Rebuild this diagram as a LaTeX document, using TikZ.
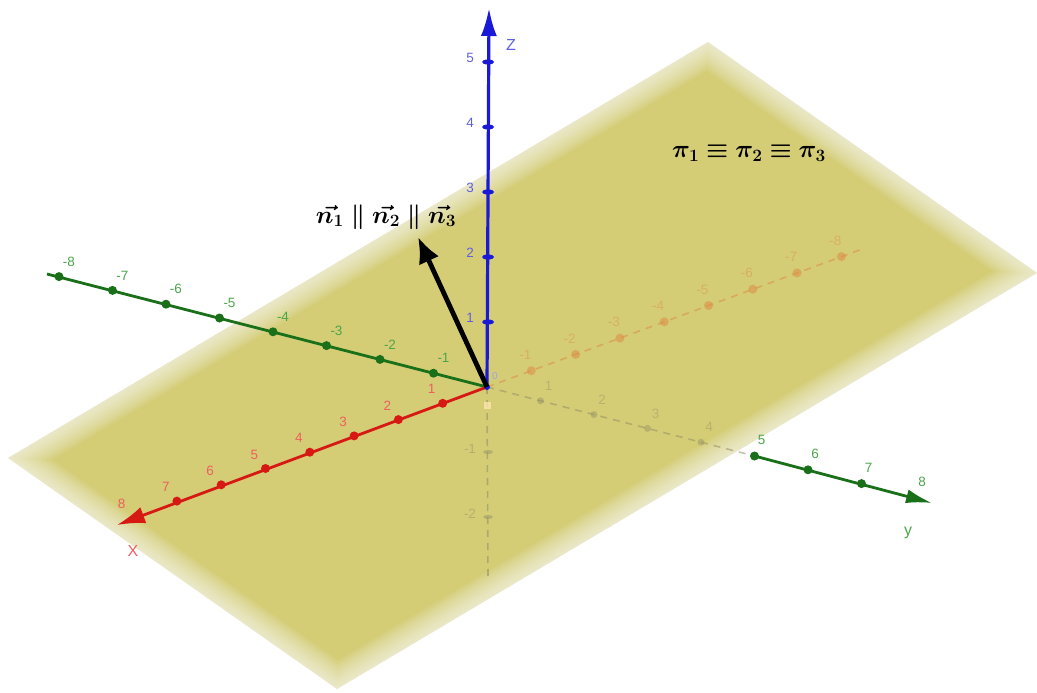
\documentclass[tikz,border=0pt]{standalone}
\usepackage{fontspec}
\setsansfont{Liberation Sans}
\usepackage{amsmath,bm}
\usetikzlibrary{arrows.meta,shapes.geometric}
\definecolor{planec}{RGB}{212,205,118}
\definecolor{xred}{RGB}{215,25,20}
\definecolor{xlabc}{RGB}{238,95,95}
\definecolor{ygreen}{RGB}{25,112,25}
\definecolor{ylabc}{RGB}{75,165,75}
\definecolor{zblue}{RGB}{25,25,215}
\definecolor{zlabc}{RGB}{95,95,225}
\definecolor{negx}{RGB}{222,140,70}
\definecolor{dashg}{RGB}{150,145,100}
\begin{document}
\begin{tikzpicture}[x=1pt,y=-1pt,
  ticklab/.style={font=\sffamily\fontsize{13.5}{15}\selectfont, inner sep=0pt},
  rdot/.style={circle,fill=xred,inner sep=0pt,minimum size=9pt},
  gdot/.style={circle,fill=ygreen,inner sep=0pt,minimum size=9pt},
  fdot/.style={circle,fill=negx,opacity=0.55,inner sep=0pt,minimum size=9pt},
  ydot/.style={circle,fill=dashg,opacity=0.45,inner sep=0pt,minimum size=7pt},
  zdot/.style={ellipse,fill=zblue,inner sep=0pt,minimum width=12pt,minimum height=5pt},
  axisline/.style={line width=2.8pt},
  fadeline/.style={line width=1.6pt,dash pattern=on 7pt off 6pt},
  edgefade/.style={white,opacity=0.075,line join=round},
  mathlab/.style={inner sep=0pt,font=\fontsize{27}{32}\selectfont}]
\useasboundingbox (0,0) rectangle (1037,693);
% plane
\coordinate (PT) at (708,42);
\coordinate (PR) at (1037,273);
\coordinate (PB) at (337,689);
\coordinate (PL) at (8,458);
\fill[planec] (PT) -- (PR) -- (PB) -- (PL) -- cycle;
\foreach \w in {48,44,...,4}{
  \draw[edgefade,line width=\w pt] (PT) -- (PR) -- (PB) -- (PL) -- cycle;
}
% origin
\coordinate (O) at (487,387);
% hidden parts (below plane)
\coordinate (XN) at (865,248);
\draw[negx,opacity=0.55,fadeline] (O) -- (XN);
\foreach \i in {1,...,8}{
  \node[fdot] (xn\i) at ({487+44.3*\i},{387-16.3*\i}) {};
  \node[ticklab,text=negx,opacity=0.45] at ({487+44.3*\i-6},{387-16.3*\i-16}) {-\i};
}
\coordinate (Y5) at ({487+53.5*5},{387+13.8*5});
\draw[dashg,opacity=0.55,fadeline] (O) -- (Y5);
\foreach \i in {1,...,4}{
  \node[ydot] (yp\i) at ({487+53.5*\i},{387+13.8*\i}) {};
  \node[ticklab,text=dashg,opacity=0.45] at ({487+53.5*\i+8},{387+13.8*\i-15}) {\i};
}
\coordinate (ZN) at (488,578);
\draw[dashg,opacity=0.6,fadeline] (O) -- (ZN);
\foreach \i in {1,2}{
  \node[ellipse,fill=dashg,opacity=0.5,inner sep=0pt,minimum width=10pt,minimum height=4pt] (zn\i) at (488,{387+65*\i}) {};
  \node[ticklab,text=dashg,opacity=0.5] at (470,{387+65*\i-3}) {-\i};
}
% negative y axis (solid)
\coordinate (YN) at (47,274);
\draw[ygreen,axisline] (O) -- (YN);
\foreach \i in {1,...,8}{
  \node[gdot] (yn\i) at ({487-53.5*\i},{387-13.8*\i}) {};
  \node[ticklab,text=ylabc] at ({487-53.5*\i+10},{387-13.8*\i-15}) {-\i};
}
% positive y axis (solid part)
\coordinate (YT) at (932,503);
\draw[ygreen,axisline,-{Latex[length=26pt,width=14pt]}] (Y5) -- (YT);
\foreach \i in {5,...,7}{
  \node[gdot] (yp\i) at ({487+53.5*\i},{387+13.8*\i}) {};
}
\foreach \i in {5,...,8}{
  \node[ticklab,text=ylabc] at ({487+53.5*\i+7},{387+13.8*\i-16}) {\i};
}
\node[ticklab,text=ylabc,font=\sffamily\fontsize{16}{18}\selectfont] (ylab) at (908,533) {y};
% positive x axis
\coordinate (XT) at (117,525);
\draw[xred,axisline,-{Latex[length=28pt,width=17pt]}] (O) -- (XT);
\foreach \i in {1,...,7}{
  \node[rdot] (xp\i) at ({487-44.3*\i},{387+16.3*\i}) {};
}
\foreach \i in {1,...,8}{
  \node[ticklab,text=xlabc] at ({487-44.3*\i-11},{387+16.3*\i-14}) {\i};
}
\node[ticklab,text=xlabc,font=\sffamily\fontsize{16}{18}\selectfont] (xlab) at (133,551) {X};
% positive z axis
\coordinate (ZT) at (489,8);
\draw[zblue,line width=3.2pt,-{Latex[length=28pt,width=16pt]}] (O) -- (ZT);
\foreach \i in {1,...,5}{
  \node[zdot] (zp\i) at (488,{387-65*\i}) {};
  \node[ticklab,text=zlabc] at (470,{387-65*\i-4}) {\i};
}
\node[ticklab,text=zlabc,font=\sffamily\fontsize{16}{18}\selectfont] (zlab) at (511,45) {Z};
% origin markers
\node[circle,fill=zblue,inner sep=0pt,minimum size=6pt] (Od) at (O) {};
\node[ticklab,text=zlabc!60,font=\sffamily\fontsize{10}{12}\selectfont] at (495,376) {0};
\node[rectangle,fill=yellow!40!orange!30,opacity=0.8,inner sep=0pt,minimum size=7pt] (Oy) at (487,405) {};
% normal vector
\coordinate (NT) at (418,237);
\draw[black,line width=4.8pt,-{Latex[length=26pt,width=22pt]}] (O) -- (NT);
% labels
\node[mathlab] (nlab) at (386,217) {$\boldsymbol{\vec{n_1}\parallel\vec{n_2}\parallel\vec{n_3}}$};
\node[mathlab] (pilab) at (749,153) {$\boldsymbol{\pi_1\equiv\pi_2\equiv\pi_3}$};
\end{tikzpicture}
\end{document}
